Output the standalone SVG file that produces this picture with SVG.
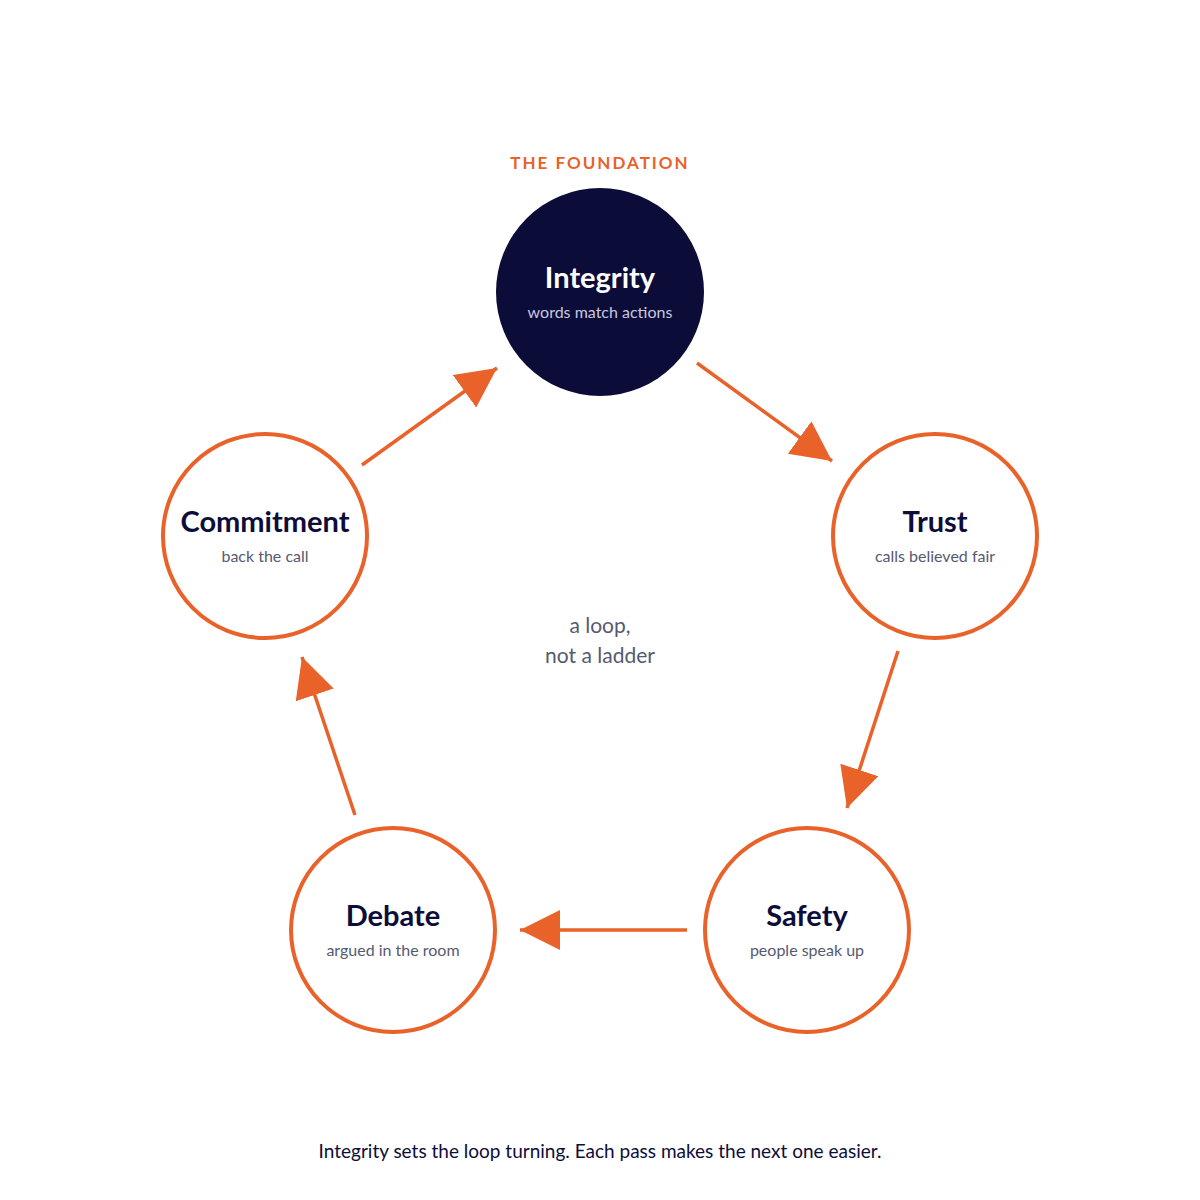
<svg xmlns="http://www.w3.org/2000/svg" width="1200" height="1200" viewBox="0 0 1200 1200">
<style>
.ring{fill:#fff;stroke:#e8622a;stroke-width:4}
.t{font-family:Lato,"Open Sans",sans-serif;font-weight:700;font-size:29px;fill:#0d0d3a;text-anchor:middle}
.s{font-family:Lato,"Open Sans",sans-serif;font-size:16px;fill:#555a70;text-anchor:middle}
.c{stroke:#e8622a;stroke-width:3.5;fill:none;marker-end:url(#ah)}
</style>
<defs>
<marker id="ah" markerUnits="userSpaceOnUse" markerWidth="42" markerHeight="42" refX="40" refY="20" orient="auto" viewBox="0 0 42 42">
<path d="M0,0 L40,20 L0,40 z" fill="#e8622a"/>
</marker>
</defs>
<rect width="1200" height="1200" fill="#fff"/>
<text x="600" y="169" font-family="Lato,'Open Sans',sans-serif" font-weight="700" font-size="17" letter-spacing="2" fill="#e8622a" text-anchor="middle">THE FOUNDATION</text>
<g id="connectors">
<line class="c" x1="697" y1="363" x2="832" y2="461"/>
<line class="c" x1="898" y1="651" x2="847" y2="808"/>
<line class="c" x1="687" y1="930" x2="520" y2="930"/>
<line class="c" x1="355" y1="815" x2="302" y2="657"/>
<line class="c" x1="362" y1="465" x2="497" y2="368"/>
</g>
<g id="integrity">
<circle cx="600" cy="292" r="104" fill="#0c0c38"/>
<text class="t" x="600" y="288" style="fill:#fff">Integrity</text>
<text class="s" x="600" y="318" style="fill:#c8c8e0">words match actions</text>
</g>
<g id="trust">
<circle class="ring" cx="935" cy="536" r="102"/>
<text class="t" x="935" y="532">Trust</text>
<text class="s" x="935" y="562">calls believed fair</text>
</g>
<g id="safety">
<circle class="ring" cx="807" cy="930" r="102"/>
<text class="t" x="807" y="926">Safety</text>
<text class="s" x="807" y="956">people speak up</text>
</g>
<g id="debate">
<circle class="ring" cx="393" cy="930" r="102"/>
<text class="t" x="393" y="926">Debate</text>
<text class="s" x="393" y="956">argued in the room</text>
</g>
<g id="commitment">
<circle class="ring" cx="265" cy="536" r="102"/>
<text class="t" x="265" y="532">Commitment</text>
<text class="s" x="265" y="562">back the call</text>
</g>
<text x="600" y="633" font-family="Lato,'Open Sans',sans-serif" font-size="21" fill="#555a70" text-anchor="middle">a loop,</text>
<text x="600" y="663" font-family="Lato,'Open Sans',sans-serif" font-size="21" fill="#555a70" text-anchor="middle">not a ladder</text>
<text x="600" y="1158" font-family="Lato,'Open Sans',sans-serif" font-size="19" fill="#0d0d3a" text-anchor="middle">Integrity sets the loop turning. Each pass makes the next one easier.</text>
</svg>
